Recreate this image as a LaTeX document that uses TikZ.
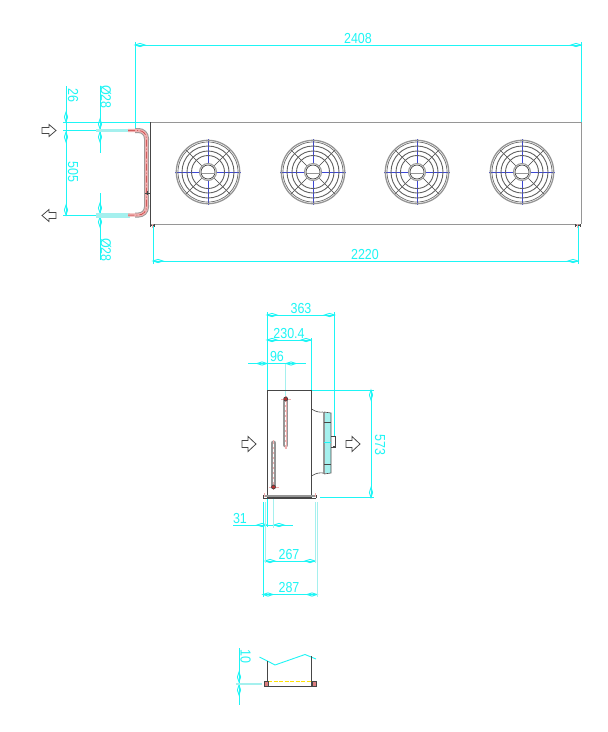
\documentclass[tikz,border=0pt]{standalone}
\usepackage{fontspec}
\setmainfont[FakeStretch=0.86]{Liberation Sans}
\definecolor{dimc}{RGB}{30,245,245}
\definecolor{bandc}{RGB}{165,240,238}
\definecolor{body}{RGB}{70,70,70}
\definecolor{gry}{RGB}{150,150,150}
\definecolor{pipe}{RGB}{240,175,175}
\definecolor{redc}{RGB}{190,50,50}
\definecolor{fanb}{RGB}{60,70,210}
\tikzset{
 dimline/.style={draw=dimc,line width=0.9pt},
 band/.style={draw=bandc,line width=2pt},
 outline/.style={draw=body,line width=0.8pt},
 dimtext/.style={text=dimc,inner sep=0pt,font=\fontsize{14.5}{15}\selectfont},
 flowarrow/.style={draw=body,line width=0.8pt,fill=white},
}
% arrow ticks (slim diamonds)
\newcommand{\hd}[2]{\draw[dimline] (#1,#2) -- ++(5,-1.6) -- ++(5,1.6) -- ++(-5,1.6) -- cycle;}
\newcommand{\vd}[2]{\draw[dimline] (#1,#2) -- ++(-1.6,5) -- ++(1.6,5) -- ++(1.6,-5) -- cycle;}
\newcommand{\fan}[2]{
 \begin{scope}[shift={(#1,#2)}]
  \foreach \a in {45,135,225,315}{\draw[body,line width=0.6pt] (\a:9) -- (\a:31);}
  \foreach \a in {0,90,180,270}{\draw[fanb,line width=0.7pt] (\a:9) -- (\a:33);}
  \draw[gry,line width=1.3pt] (0,0) circle (31.7);
  \draw[body!80,line width=0.7pt] (0,0) circle (30);
  \foreach \r in {26,21,16.5}{\draw[body!85,line width=0.9pt] (0,0) circle (\r);}
  \draw[gry,line width=1pt] (0,0) circle (8.5);
  \draw[body,line width=0.7pt] (0,0) circle (7);
  \draw[gry,line width=1.2pt] (-6.5,1.5) -- (6.5,1.5);
 \end{scope}}
\newcommand{\rarrow}[2]{\draw[flowarrow] (#1,#2-3) -- ++(7,0) -- ++(0,-3) -- ++(7,6) -- ++(-7,6) -- ++(0,-3) -- ++(-7,0) -- cycle;}
\newcommand{\larrow}[2]{\draw[flowarrow] (#1,#2-3) -- ++(-7,0) -- ++(0,-3) -- ++(-7,6) -- ++(7,6) -- ++(0,-3) -- ++(7,0) -- cycle;}
\newcommand{\bigarrow}[2]{\draw[flowarrow] (#1,#2-3.5) -- ++(6,0) -- ++(0,-4) -- ++(8,7.5) -- ++(-8,7.5) -- ++(0,-4) -- ++(-6,0) -- cycle;}
\begin{document}
\begin{tikzpicture}[x=1pt,y=-1pt]
\useasboundingbox[fill=white] (0,0) rectangle (608,732);

% ---------- top view: dimensions
\draw[dimline] (135,45) -- (581,45);
\hd{135}{45}\hd{571}{45}
\draw[dimline] (135,42) -- (135,130);
\draw[dimline] (581,42) -- (581,122);
\node[dimtext] (t2408) at (358,38.5) {2408};
\draw[dimline] (153,261) -- (578,261);
\hd{153}{261}\hd{568}{261}
\draw[dimline] (153,226) -- (153,264);
\draw[dimline] (578,226) -- (578,264);
\node[dimtext] (t2220) at (365,254.5) {2220};

\draw[dimline] (66,86) -- (66,215);
\vd{66}{112}\vd{66}{132}\vd{66}{205}
\draw[dimline] (63,122) -- (150,122);
\draw[dimline] (63,130.5) -- (130,130.5);
\draw[dimline] (63,215) -- (130,215);
\node[dimtext,rotate=-90] (t26) at (73,95) {26};
\node[dimtext,rotate=-90] (t505) at (73,172) {505};

\draw[dimline] (100,86) -- (100,153);
\vd{100}{119}\vd{100}{132}
\draw[dimline] (100,193) -- (100,260);
\vd{100}{203}\vd{100}{217}
\node[dimtext,rotate=-90] (tda) at (106,97) {Ø28};
\node[dimtext,rotate=-90] (tdb) at (106,250) {Ø28};
\draw[band,line width=3pt] (96,130.5) -- (130,130.5);
\draw[band,line width=5pt] (96,215) -- (130,215);

% ---------- top view: body
\draw[gry,line width=0.9pt] (150,122) -- (581,122) (150,224) -- (581,224) (581,122) -- (581,224);
\draw[outline] (150.5,122) -- (150.5,224);
\draw[outline] (150,225) -- (155,225) (575,225) -- (580,225);
\draw[pipe,line width=1.2pt] (152.5,224) -- (152.5,228) (577.5,224) -- (577.5,228);
\draw[body,line width=0.6pt] (150.5,224) -- (150.5,227) (154.5,224) -- (154.5,227) (575.5,224) -- (575.5,227) (580,224) -- (580,227);

\fan{208}{172}\fan{313}{172}\fan{417}{172}\fan{522}{172}

% ---------- U-bend header
\draw[gry,line width=5pt,rounded corners=8pt] (135,130.5) -- (146.5,130.5) -- (146.5,140) (146.5,205) -- (146.5,215) -- (135,215);
\draw[gry,line width=4.6pt] (146.5,138) -- (146.5,208);
\draw[pipe,line width=3.2pt,rounded corners=8pt] (128,130.5) -- (146.5,130.5) -- (146.5,215) -- (128,215);
\draw[redc,line width=0.5pt,dash pattern=on 7pt off 2pt on 1pt off 2pt,rounded corners=8pt] (128,130.5) -- (146.5,130.5) -- (146.5,215) -- (128,215);
\draw[body,line width=0.7pt] (150.5,122) -- (150.5,224);
\draw[body,line width=0.6pt] (145,193) -- (150,193);
\draw[body,line width=0.6pt] (147,191) -- (147,195);

\rarrow{42}{130.5}
\larrow{56}{215.5}

% ---------- side view: dimensions
\draw[dimline] (267,315) -- (334.5,315);
\hd{267}{315}\hd{324.5}{315}
\node[dimtext] (t363) at (301,308.5) {363};
\draw[dimline] (267,340) -- (311.5,340);
\hd{267}{340}\hd{301}{340}
\node[dimtext] (t230) at (289,333.5) {230.4};
\draw[dimline] (248,363.5) -- (306,363.5);
\hd{257}{363.5}\hd{286}{363.5}
\node[dimtext] (t96) at (277,357) {96};
\draw[dimline] (267.5,312) -- (267.5,390);
\draw[dimline] (334.5,312) -- (334.5,436);
\draw[dimline] (311.5,338) -- (311.5,390);
\draw[band,line width=1.2pt] (285.7,363.5) -- (285.7,398);
\draw[dimline] (312,390) -- (374,390);
\draw[dimline] (320,497.5) -- (374,497.5);
\draw[dimline] (371,390) -- (371,497.5);
\vd{371}{390}\vd{371}{487.5}
\node[dimtext,rotate=-90] (t573) at (380,445) {573};

\draw[dimline] (233,525) -- (293,525);
\hd{257}{525}\hd{274}{525}
\node[dimtext] (t31) at (240,518.5) {31};
\draw[dimline] (265,561) -- (315,561);
\hd{265}{561}\hd{305}{561}
\node[dimtext] (t267) at (289,554.5) {267};
\draw[dimline] (263,594.5) -- (317,594.5);
\hd{263}{594.5}\hd{307}{594.5}
\node[dimtext] (t287) at (289,587.5) {287};
\draw[dimline] (263,502) -- (263,597);
\draw[band,line width=1pt] (265.5,502) -- (265.5,563);
\draw[dimline] (267.5,498) -- (267.5,527);
\draw[band,line width=1.2pt] (273.5,498) -- (273.5,528);
\draw[band,line width=1pt] (315,502) -- (315,563);
\draw[band,line width=1pt] (317,502) -- (317,597);

% ---------- side view: body
\draw[outline] (267.5,390) rectangle (311.5,497);
\draw[gry,line width=2.2pt] (264,496) -- (315,496);
\draw[outline] (263,498) -- (316,498);
\draw[outline] (263,498) -- (263,495);
\draw[outline] (316,498) -- (316,495);
\draw[pipe,line width=1pt] (264.5,493) -- (264.5,497) (315,493) -- (315,497);

\draw[gry,line width=5pt,line cap=round] (285.7,401) -- (285.7,445);
\draw[pipe,line width=1.8pt] (285.7,396) -- (285.7,449);
\draw[white,line width=0.6pt,dash pattern=on 3pt off 2pt] (285.7,402) -- (285.7,446);
\draw[pipe,line width=0.8pt] (281,399) -- (291,399);
\draw[body,fill=redc,line width=0.7pt] (285.7,399) circle (2);

\draw[gry,line width=5pt,line cap=round] (273.5,443) -- (273.5,485);
\draw[pipe,line width=1.8pt] (273.5,440) -- (273.5,490);
\draw[white,line width=0.6pt,dash pattern=on 3pt off 2pt] (273.5,444) -- (273.5,484);
\draw[pipe,line width=0.8pt] (269,487) -- (279,487);
\draw[body,fill=redc,line width=0.7pt] (273.5,487) circle (2);

\fill[bandc] (324,413) rectangle (331,473);
\draw[gry,line width=2pt] (324,412) -- (324,474);
\draw[outline,line width=0.6pt] (311.5,409) .. controls (316,412) and (320,412.5) .. (323,412);
\draw[outline,line width=0.6pt] (311.5,476) .. controls (316,473) and (320,472.5) .. (323,473);
\draw[outline,line width=0.6pt] (324,412) -- (331,413) -- (331,473) -- (324,474);
\draw[outline,line width=0.6pt] (324,422) -- (331,422) (324,464) -- (331,464);
\draw[dimline] (324,442.5) -- (331,442.5);
\draw[outline,line width=0.6pt] (331,436) -- (335,436) -- (335,447) -- (331,447);
\fill[body] (333,446) rectangle (335,448);

\bigarrow{242}{444}
\bigarrow{346}{444}

% ---------- lower view
\draw[dimline] (239,648) -- (239,705);
\vd{239}{672}\vd{239}{685}
\draw[band,line width=2pt] (236,683.5) -- (262,683.5);
\node[dimtext,rotate=-90] (t10) at (245.5,656) {10};
\draw[dimline] (259.5,657) -- (267.5,661) -- (275,665) -- (305,654.5) -- (316,659);
\draw[outline] (267.5,661) -- (267.5,686) (311.5,656) -- (311.5,686);
\draw[outline] (267.5,686) -- (311.5,686);
\draw[yellow!85!orange,line width=0.7pt,dash pattern=on 4pt off 1.5pt] (268,681.5) -- (311,681.5);
\foreach \x in {264,312}{
 \draw[body,fill=pipe!60!redc,line width=0.7pt] (\x,681.5) rectangle ++(4.5,4.5);
}
\end{tikzpicture}
\end{document}
